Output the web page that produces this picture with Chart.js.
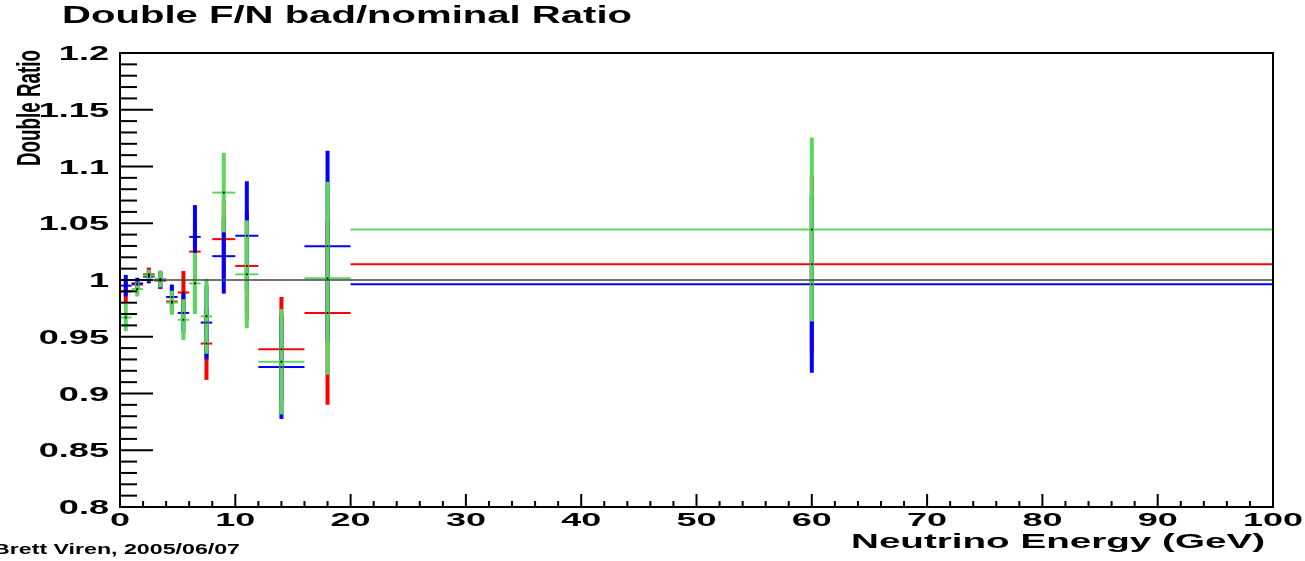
<!DOCTYPE html>
<html>
<head>
<meta charset="utf-8">
<script src="https://cdn.jsdelivr.net/npm/chart.js@4/dist/chart.umd.min.js"></script>
<style>
  html, body { margin: 0; padding: 0; background: #ffffff; }
  #wrap { width: 1305px; height: 561px; position: relative; }
</style>
</head>
<body>
<div id="wrap"><canvas id="c" width="1305" height="561"></canvas></div>
<script>
// ---- data ----
const binEdges = [0, 1, 2, 3, 4, 5, 6, 7, 8, 10, 12, 16, 20, 100];
const binCenters = [0.5, 1.5, 2.5, 3.5, 4.5, 5.5, 6.5, 7.5, 9, 11, 14, 18, 60];

const redValues  = [0.990, 0.996, 1.005, 0.9995, 0.981, 0.989, 1.025, 0.944, 1.036, 1.0124, 0.939, 0.971, 1.0139];
const redErrors  = [0.010, 0.005, 0.006, 0.0075, 0.011, 0.019, 0.027, 0.032, 0.034, 0.047, 0.046, 0.081, 0.078];

const blueValues = [0.995, 0.997, 1.003, 1.000, 0.985, 0.971, 1.038, 0.9625, 1.021, 1.039, 0.9233, 1.0298, 0.9962];
const blueErrors = [0.0095, 0.005, 0.006, 0.0075, 0.011, 0.0175, 0.028, 0.0325, 0.033, 0.048, 0.0457, 0.084, 0.078];

const greenValues = [0.967, 0.992, 1.004, 1.001, 0.980, 0.965, 0.997, 0.968, 1.077, 1.005, 0.928, 1.0015, 1.0445];
const greenErrors = [0.012, 0.0065, 0.005, 0.0075, 0.0106, 0.018, 0.027, 0.033, 0.035, 0.0475, 0.0465, 0.085, 0.081];

const referenceLevel = 1.0;

const xTickLabels = ['0', '10', '20', '30', '40', '50', '60', '70', '80', '90', '100'];
const yTickLabels = ['0.8', '0.85', '0.9', '0.95', '1', '1.05', '1.1', '1.15', '1.2'];

const titleText = 'Double F/N bad/nominal Ratio';
const xTitleText = 'Neutrino Energy (GeV)';
const yTitleText = 'Double Ratio';
const footerText = 'Brett Viren, 2005/06/07';

// ---- build library structures ----
const series = [
  { label: 'red',   color: '#ff0000', values: redValues,   errors: redErrors },
  { label: 'blue',  color: '#0000ff', values: blueValues,  errors: blueErrors },
  { label: 'green', color: '#5cd65c', values: greenValues, errors: greenErrors }
];

const datasets = series.map(s => ({
  label: s.label,
  data: binCenters.map((x, i) => ({ x: x, y: s.values[i] })),
  showLine: false,
  pointRadius: 1.3,
  pointStyle: 'rect',
  pointBackgroundColor: '#000000',
  pointBorderWidth: 0,
  errColor: s.color,
  errors: s.errors
}));

const FONT = '"Liberation Sans", Arial, Helvetica, sans-serif';

function stretchText(ctx, text, x, y, font, opts) {
  ctx.save();
  ctx.font = font;
  ctx.textAlign = opts.align || 'left';
  ctx.textBaseline = opts.baseline || 'alphabetic';
  let sx = opts.sx || 1;
  if (opts.width) sx = opts.width / ctx.measureText(text).width;
  ctx.translate(x, y);
  if (opts.rotate) ctx.rotate(opts.rotate);
  ctx.scale(sx, 1);
  ctx.fillStyle = opts.color || '#000000';
  ctx.fillText(text, 0, 0);
  ctx.restore();
}

const errorBarPlugin = {
  id: 'errorBars',
  beforeDatasetsDraw(chart) {
    const ctx = chart.ctx;
    const xs = chart.scales.x, ys = chart.scales.y;
    const area = chart.chartArea;
    ctx.save();
    ctx.beginPath();
    ctx.rect(area.left, area.top, area.right - area.left, area.bottom - area.top);
    ctx.clip();
    chart.data.datasets.forEach(ds => {
      ds.data.forEach((p, i) => {
        const px = xs.getPixelForValue(p.x);
        const xl = xs.getPixelForValue(binEdges[i]);
        const xr = xs.getPixelForValue(binEdges[i + 1]);
        const py = ys.getPixelForValue(p.y);
        const yt = ys.getPixelForValue(p.y + ds.errors[i]);
        const yb = ys.getPixelForValue(p.y - ds.errors[i]);
        ctx.strokeStyle = ds.errColor;
        ctx.lineCap = 'butt';
        ctx.lineWidth = 2;
        ctx.beginPath();
        ctx.moveTo(xl, py); ctx.lineTo(xr, py);
        ctx.stroke();
        ctx.lineWidth = 4;
        ctx.beginPath();
        ctx.moveTo(px, yt); ctx.lineTo(px, yb);
        ctx.stroke();
      });
    });
    const y1 = ys.getPixelForValue(referenceLevel);
    ctx.strokeStyle = 'rgba(70,70,70,0.75)';
    ctx.lineWidth = 2;
    ctx.beginPath();
    ctx.moveTo(area.left, y1); ctx.lineTo(area.right, y1);
    ctx.stroke();
    ctx.restore();
  },
  afterDraw(chart) {
    const ctx = chart.ctx;
    const xs = chart.scales.x, ys = chart.scales.y;
    const a = chart.chartArea;
    ctx.save();
    ctx.strokeStyle = '#000000';
    ctx.lineWidth = 2;
    ctx.strokeRect(a.left, a.top, a.right - a.left, a.bottom - a.top);
    for (let i = 0; i <= 40; i++) {
      const v = 0.8 + i * 0.01;
      const py = ys.getPixelForValue(v);
      const len = (i % 5 === 0) ? 33 : 17;
      ctx.beginPath();
      ctx.moveTo(a.left, py); ctx.lineTo(a.left + len, py);
      ctx.stroke();
    }
    for (let i = 0; i <= 50; i++) {
      const v = i * 2;
      const px = xs.getPixelForValue(v);
      const len = (i % 5 === 0) ? 13 : 6;
      ctx.beginPath();
      ctx.moveTo(px, a.bottom); ctx.lineTo(px, a.bottom - len);
      ctx.stroke();
    }
    yTickLabels.forEach(t => {
      const py = ys.getPixelForValue(parseFloat(t));
      stretchText(ctx, t, 109, py + 7, 'bold 21px ' + FONT, { align: 'right', sx: 1.72 });
    });
    xTickLabels.forEach(t => {
      const px = xs.getPixelForValue(parseFloat(t));
      stretchText(ctx, t, px, 526, 'bold 18px ' + FONT, { align: 'center', sx: 2.0 });
    });
    stretchText(ctx, titleText, 62, 23, 'bold 24px ' + FONT, { align: 'left', width: 570 });
    stretchText(ctx, xTitleText, 1265, 548, 'bold 19.5px ' + FONT, { align: 'right', width: 414 });
    stretchText(ctx, footerText, 240, 554, 'bold 15px ' + FONT, { align: 'right', width: 247 });
    stretchText(ctx, yTitleText, 40, 166, 'bold 33px ' + FONT, { align: 'left', width: 116, rotate: -Math.PI / 2 });
    ctx.restore();
  }
};

new Chart(document.getElementById('c'), {
  type: 'scatter',
  data: { datasets: datasets },
  options: {
    responsive: false,
    animation: false,
    devicePixelRatio: 1,
    layout: { padding: { left: 120, right: 32, top: 53, bottom: 54 } },
    plugins: { legend: { display: false }, tooltip: { enabled: false } },
    scales: {
      x: { type: 'linear', min: 0, max: 100, display: false },
      y: { type: 'linear', min: 0.8, max: 1.2, display: false }
    }
  },
  plugins: [errorBarPlugin]
});
</script>
</body>
</html>
